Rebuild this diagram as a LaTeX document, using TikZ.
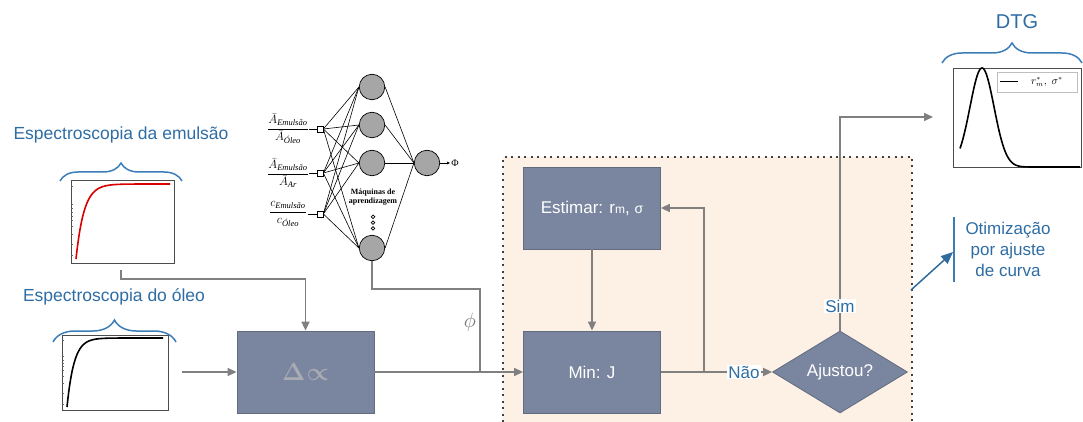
\documentclass[tikz,border=0pt]{standalone}
\usepackage{amsmath}
\usepackage{fontspec}
\setmainfont{Liberation Sans}
\newfontfamily\nnfont{Liberation Serif}
\usetikzlibrary{decorations.pathreplacing,shapes.geometric,arrows.meta,calc}
\definecolor{boxc}{HTML}{7A869F}
\definecolor{linec}{HTML}{808080}
\definecolor{bluet}{HTML}{2E6DA4}
\definecolor{braceblue}{HTML}{3A7DB8}
\definecolor{regionc}{HTML}{FDF0E4}
\definecolor{deltac}{HTML}{A9ABB2}
\newcommand{\nnsub}[1]{\text{\nnfont\itshape\fontsize{8.5}{9}\selectfont #1}}
\begin{document}
\begin{tikzpicture}[x=1pt,y=-1pt,
  box/.style={draw=boxc!80!black, fill=boxc, line width=0.8, text=white,
    font=\fontsize{17}{20}\selectfont, minimum width=137, minimum height=82, inner sep=0},
  dia/.style={diamond, draw=boxc!80!black, fill=boxc, line width=0.8, text=white,
    font=\fontsize{17}{20}\selectfont, minimum width=135, minimum height=80, inner sep=0},
  conn/.style={draw=linec, line width=1.6},
  arr/.style={conn, -{Triangle[length=9,width=8]}},
  bluetext/.style={text=bluet, font=\fontsize{17}{21}\selectfont},
  title/.style={text=bluet, font=\fontsize{17.5}{21}\selectfont},
  bracestyle/.style={draw=braceblue, line width=1.5, decorate},
  plotbox/.style={draw=black!70, line width=0.8, inner sep=0},
  neuron/.style={circle, draw=black, fill=black!35, line width=0.7, minimum size=25.5, inner sep=0},
  inbox/.style={draw=black, fill=white, line width=0.7, minimum size=6, inner sep=0},
  nnline/.style={draw=black, line width=0.6},
  frac/.style={font=\fontsize{12}{13}\selectfont, inner sep=0.5},
  region/.style={draw=black!75, line width=2, dash pattern=on 2pt off 4.5pt},
  lbl/.style={fill=white, text=bluet, font=\fontsize{17}{20}\selectfont, inner sep=1}
]
\useasboundingbox (0,0) rectangle (1083,422);

% optimisation region
\fill[regionc] (503,157) rectangle (912,422);
\draw[region] (503,422) -- (503,157) -- (912,157) -- (912,422);

% ---------- emulsion spectroscopy ----------
\node[title] (emtitle) at (121,135) {Espectroscopia da emulsão};
\draw[bracestyle, decoration={brace, amplitude=18}] (60,181) -- (182,181);
\node[plotbox, minimum width=103, minimum height=83] (emplot) at (122.5,221.5) {};
\foreach \t in {186,204,208,212,216,220,226,234,244,255}
  \draw[black!60, line width=0.4] (71,\t) -- (73,\t);
\draw[red!85!black, line width=1.6] plot[domain=76:140, samples=70] (\x, {184+75*exp(-(\x-76)/8)}) -- (170,184);

% ---------- oil spectroscopy ----------
\node[title] (oiltitle) at (114,297) {Espectroscopia do óleo};
\draw[bracestyle, decoration={brace, amplitude=22}] (53,342) -- (176,342);
\node[plotbox, minimum width=106, minimum height=75] (oilplot) at (115,372.5) {};
\foreach \t in {340,356,360,363,366,370,376,383,393,404}
  \draw[black!60, line width=0.4] (62,\t) -- (64,\t);
\draw[black, line width=1.6] plot[domain=67:125, samples=70] (\x, {338+69*exp(-(\x-67)/7)}) -- (163,338);

% ---------- DTG ----------
\node[title, font=\fontsize{20}{24}\selectfont] (dtgtitle) at (1017,22) {DTG};
\draw[bracestyle, decoration={brace, amplitude=20}] (942,63) -- (1082,63);
\node[plotbox, minimum width=128, minimum height=99] (dtgplot) at (1017,117.5) {};
\draw[black, line width=1.6] plot[domain=960:1033, samples=90] (\x, {167-99*exp(-((\x-982)/17)^2)}) -- (1080,167);
\node[draw=black!25, fill=white, line width=0.6, minimum width=80, minimum height=20, inner sep=0] (legend) at (1037,82) {};
\draw[black, line width=1] (1000,82) -- (1018,82);
\node[font=\fontsize{10.5}{11}\selectfont] (legtext) at (1047,82) {$r_m^*,\ \sigma^*$};

% ---------- neural network ----------
\node[neuron] (h1) at (372,87) {};
\node[neuron] (h2) at (372,125) {};
\node[neuron] (h3) at (372,163) {};
\node[neuron] (h4) at (372,248) {};
\node[neuron] (out) at (427,163) {};
\node[inbox] (i1) at (320,129) {};
\node[inbox] (i2) at (320,173) {};
\node[inbox] (i3) at (320,214) {};
\foreach \i in {i1,i2,i3}
  \foreach \h in {h1,h2,h3,h4}
    \draw[nnline] (\i.east) -- (\h.west);
\foreach \h in {h1,h2,h3,h4}
  \draw[nnline] (\h.east) -- (out.west);
\node[font=\nnfont\fontsize{10}{12}\selectfont, inner sep=1] (phiout) at (455,163) {Φ};
\draw[nnline, -{Latex[length=3,width=3]}] (out.east) -- (phiout.west);
\node[frac] (l1) at (288,129) {$\displaystyle\frac{\bar{A}_{\nnsub{Emulsão}}}{\bar{A}_{\nnsub{Óleo}}}$};
\node[frac] (l2) at (288,173) {$\displaystyle\frac{\bar{A}_{\nnsub{Emulsão}}}{\bar{A}_{\nnsub{Ar}}}$};
\node[frac] (l3) at (288,214) {$\displaystyle\frac{c_{\nnsub{Emulsão}}}{c_{\nnsub{Óleo}}}$};
\draw[nnline] (l1.east) -- (i1.west);
\draw[nnline] (l2.east) -- (i2.west);
\draw[nnline] (l3.east) -- (i3.west);
\node[font=\nnfont\bfseries\fontsize{8}{9.5}\selectfont, align=center] (ml) at (373,197) {Máquinas de\\aprendizagem};
\foreach \yy in {216.8,222.6,228.4}
  \draw[black, line width=0.7, fill=white] (373,\yy) circle (1.8);

% ---------- main blocks ----------
\node[box, text=deltac, font=\fontsize{30}{32}\selectfont] (delta) at (305.5,372) {$\boldsymbol{\Delta}\mkern-4mu\boldsymbol{\propto}$};
\node[box] (estimar) at (592,208) {Estimar: r{\fontsize{12}{12}\selectfont m}, {\fontsize{14}{14}\selectfont σ}};
\node[box] (minj) at (592,372) {Min: J};
\node[dia] (ajustou) at (840,372) {Ajustou?};

% ---------- connectors ----------
\coordinate (e1) at (121,270);
\coordinate (e2) at (121,279);
\draw[arr] (e1) -- (e2) -| (delta.north);
\coordinate (o1) at (182,372);
\draw[arr] (o1) -- (delta.west);
\draw[arr] (delta.east) -- (minj.west);
\coordinate (k) at (480,289);
\coordinate (j) at (480,372);
\draw[conn] (h4.south) |- (k) -- (j);
\node[text=black!55, font=\fontsize{22}{24}\selectfont] (phibig) at (470,322) {$\phi$};
\draw[arr] (estimar.south) -- (minj.north);
\draw[arr] (minj.east) -- (ajustou.west);
\coordinate (fb) at (704,372);
\draw[arr] (fb) |- (estimar.east);
\node[lbl] (nao) at (744,372) {Não};
\coordinate (dtgin) at (933,117);
\draw[arr] (ajustou.north) |- (dtgin);
\node[lbl] (sim) at (840,306) {Sim};

% ---------- optimisation note ----------
\node[bluetext, align=center] (otim) at (1008,249) {Otimização\\por ajuste\\de curva};
\draw[draw=braceblue, line width=2] (954,217) -- (954,282);
\coordinate (ra) at (911,290);
\coordinate (rb) at (953,252);
\draw[draw=braceblue!85!black, line width=1.5, -{Triangle[length=12,width=10]}] (ra) -- (rb);
\end{tikzpicture}
\end{document}
